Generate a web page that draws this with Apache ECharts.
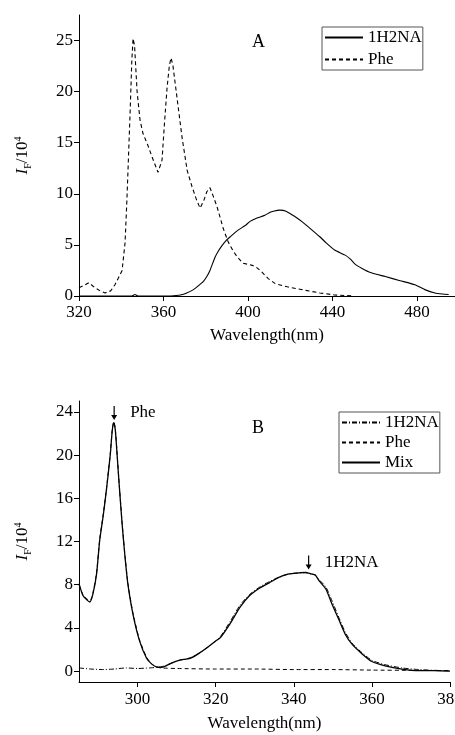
<!DOCTYPE html>
<html>
<head>
<meta charset="utf-8">
<script src="https://cdn.jsdelivr.net/npm/echarts@6/dist/echarts.min.js"></script>
<style>
html,body{margin:0;padding:0;background:#fff;}
#chart{width:455px;height:735px;}
</style>
</head>
<body>
<div id="chart"></div>
<script>
// ---------- Panel A data ----------
const aPheX = [320, 322, 324.7, 327, 330, 332.3, 335, 337, 339, 340.4, 341.8, 342.6, 343.2, 344.2, 345, 345.6, 346.3, 347.5, 348.9, 350.3, 352.5, 354.6, 357.4, 359.3, 360.5, 361.7, 362.8, 363.6, 364.5, 366.4, 368.8, 371.2, 373.5, 375.5, 377.3, 379, 380.5, 382, 383.5, 385.4, 388.3, 390.6, 393, 395, 397.7, 400, 402, 404, 405.8, 409.6, 413, 418.6, 426, 434, 441, 450];
const aPheY = [0.8, 1.0, 1.3, 0.9, 0.5, 0.3, 0.5, 1.1, 1.9, 2.5, 5.2, 9.0, 12.3, 18.0, 23.0, 25.2, 24.5, 20.0, 17.2, 15.9, 14.8, 13.6, 12.1, 13.3, 17.0, 20.4, 22.6, 23.3, 22.5, 19.4, 15.5, 12.3, 10.7, 9.5, 8.6, 9.3, 10.2, 10.6, 9.8, 8.7, 6.6, 5.3, 4.4, 3.8, 3.2, 3.1, 3.0, 2.8, 2.5, 1.7, 1.2, 0.9, 0.6, 0.3, 0.1, 0];
const aNaX = [320, 340, 345, 346.5, 348, 355, 362, 366, 368, 371, 374, 376.5, 378.8, 380.5, 382, 384.4, 386, 387.6, 389.5, 391.6, 395, 398.7, 401, 404, 408, 410.5, 412, 415, 418, 422, 426, 429.5, 434, 437, 441, 446, 448.5, 450.8, 454, 458, 465, 472, 479, 484, 488.5, 492, 495];
const aNaY = [0, 0, 0, 0.15, 0, 0, 0, 0.05, 0.1, 0.3, 0.6, 1.0, 1.4, 1.9, 2.5, 3.8, 4.4, 4.9, 5.4, 5.8, 6.4, 6.9, 7.3, 7.6, 7.9, 8.2, 8.3, 8.4, 8.3, 7.8, 7.2, 6.6, 5.8, 5.2, 4.5, 4.0, 3.6, 3.1, 2.7, 2.3, 1.9, 1.5, 1.1, 0.6, 0.3, 0.2, 0.15];
const aXTicks = [320, 360, 400, 440, 480];
const aYTicks = [0, 5, 10, 15, 20, 25];

// ---------- Panel B data ----------
const bMixX = [285, 286, 287, 287.8, 288.6, 289.5, 290.3, 291.2, 292, 293, 293.5, 293.9, 294.3, 294.8, 295.2, 296, 296.4, 296.8, 297.5, 298.8, 300.5, 302.3, 303.5, 304.8, 306, 307.3, 309, 310.6, 312, 313.6, 315.5, 317.5, 320, 321.2, 323.7, 326.2, 328.7, 331.3, 333.8, 336.3, 338.8, 341.4, 343, 344.4, 345.5, 346.4, 348.2, 349.8, 351.5, 353.2, 354.9, 357.5, 360, 363.4, 367.7, 372, 376, 380];
const bMixY = [8.1, 7.0, 6.6, 6.4, 7.2, 9.0, 12.1, 14.4, 16.7, 20.0, 22.2, 23.0, 22.3, 19.8, 17.7, 13.8, 12.1, 10.5, 8.1, 5.3, 2.8, 1.2, 0.7, 0.4, 0.35, 0.5, 0.8, 1.0, 1.1, 1.2, 1.6, 2.1, 2.8, 3.1, 4.4, 5.9, 7.0, 7.7, 8.2, 8.7, 9.0, 9.1, 9.15, 9.0, 8.9, 8.4, 7.6, 6.2, 4.8, 3.4, 2.5, 1.6, 0.9, 0.5, 0.2, 0.05, 0.05, 0];
const bNaX = [285, 288, 291, 294, 297, 300, 303, 304.8, 306, 307.3, 309, 310.6, 312, 313.6, 315.5, 317.5, 320, 321.2, 323.7, 326.2, 328.7, 331.3, 333.8, 336.3, 338.8, 341.4, 343, 344.4, 345.5, 346.4, 348.2, 349.8, 351.5, 353.2, 354.9, 357.5, 360, 363.4, 367.7, 372, 376, 380];
const bNaY = [0.3, 0.2, 0.15, 0.2, 0.3, 0.25, 0.3, 0.35, 0.4, 0.55, 0.8, 1.0, 1.1, 1.25, 1.6, 2.1, 2.8, 3.2, 4.6, 6.1, 7.1, 7.8, 8.3, 8.7, 9.0, 9.1, 9.1, 9.0, 8.9, 8.5, 7.8, 6.5, 5.0, 3.6, 2.6, 1.7, 1.0, 0.6, 0.3, 0.15, 0.08, 0.05];
const bPheX = [285, 286, 287, 287.8, 288.6, 289.5, 290.3, 291.2, 292, 293, 293.5, 293.9, 294.3, 294.8, 295.2, 296, 296.4, 296.8, 297.5, 298.8, 300.5, 302.3, 303.5, 304.8, 306, 310, 320, 330, 340, 350, 360, 370, 380];
const bPheY = [8.0, 7.1, 6.7, 6.5, 7.3, 9.1, 12.2, 14.5, 16.8, 20.1, 22.3, 23.1, 22.4, 19.9, 17.8, 13.9, 12.2, 10.6, 8.2, 5.4, 2.9, 1.3, 0.7, 0.4, 0.3, 0.25, 0.2, 0.2, 0.15, 0.15, 0.1, 0.08, 0.05];
const bXTicks = [300, 320, 340, 360, 380];
const bYTicks = [0, 4, 8, 12, 16, 20, 24];

const FONT = '"Liberation Serif", "DejaVu Serif", serif';
const zip = (xs, ys) => xs.map((x, i) => [x, ys[i]]);
const ARROW = 'path://M2.4,0 L3.6,0 L3.6,9 L6,9 L3,14 L0,9 L2.4,9 Z';

const axisCommon = {
  axisLine: { show: true, onZero: false, lineStyle: { color: '#000', width: 1 } },
  axisTick: { show: true, length: 5, lineStyle: { color: '#000', width: 1 } },
  splitLine: { show: false },
};
const yName = '{i|I}{s|F}{n|/10}{p|4}';
const yNameStyle = {
  color: '#000',
  rich: {
    i: { fontFamily: FONT, fontStyle: 'italic', fontSize: 17, color: '#000', lineHeight: 20 },
    s: { fontFamily: FONT, fontSize: 10, color: '#000', verticalAlign: 'bottom', lineHeight: 10 },
    n: { fontFamily: FONT, fontSize: 17, color: '#000', lineHeight: 20 },
    p: { fontFamily: FONT, fontSize: 10, color: '#000', verticalAlign: 'top', lineHeight: 10 }
  }
};
const labelStyle = { fontFamily: FONT, fontSize: 17, color: '#000' };
const legendCommon = {
  orient: 'vertical', itemWidth: 38, itemHeight: 14, itemTextGap: 3,
  borderColor: '#555', borderWidth: 1, borderRadius: 0,
  itemStyle: { color: 'rgba(0,0,0,0)', borderColor: 'rgba(0,0,0,0)', borderWidth: 0 },
  formatter: n => n.replace(/^[AB]:/, ''),
  textStyle: { fontFamily: FONT, fontSize: 17, color: '#000' },
  selectedMode: false
};

const chart = echarts.init(document.getElementById('chart'), null, { renderer: 'canvas' });
chart.setOption({
  animation: false,
  backgroundColor: '#fff',
  title: [
    { text: 'A', left: 252, top: 33, padding: 0, textStyle: { fontFamily: FONT, fontSize: 18, fontWeight: 'normal', color: '#000' } },
    { text: 'B', left: 252, top: 419, padding: 0, textStyle: { fontFamily: FONT, fontSize: 18, fontWeight: 'normal', color: '#000' } }
  ],
  legend: [
    Object.assign({}, legendCommon, {
      data: ['A:1H2NA', 'A:Phe'], left: 322, top: 27, padding: [2, 1, 2, 2], itemGap: 5
    }),
    Object.assign({}, legendCommon, {
      data: ['B:1H2NA', 'B:Phe', 'B:Mix'], left: 339, top: 412, padding: [2, 1, 2, 2], itemGap: 3
    })
  ],
  grid: [
    { left: 79, top: 15, width: 376, height: 281, containLabel: false, outerBoundsMode: 'none' },
    { left: 79, top: 401, width: 371, height: 281, containLabel: false, outerBoundsMode: 'none' }
  ],
  xAxis: [
    Object.assign({}, axisCommon, {
      gridIndex: 0, type: 'value', min: 320, max: 498,
      axisTick: Object.assign({}, axisCommon.axisTick, { customValues: aXTicks }),
      axisLabel: Object.assign({}, labelStyle, { margin: 8, customValues: aXTicks }),
      name: 'Wavelength(nm)', nameLocation: 'middle', nameGap: 31,
      nameTextStyle: { fontFamily: FONT, fontSize: 17, color: '#000' }
    }),
    Object.assign({}, axisCommon, {
      gridIndex: 1, type: 'value', min: 285, max: 380,
      axisTick: Object.assign({}, axisCommon.axisTick, { customValues: bXTicks }),
      axisLabel: Object.assign({}, labelStyle, { margin: 9, customValues: bXTicks }),
      name: 'Wavelength(nm)', nameLocation: 'middle', nameGap: 33,
      nameTextStyle: { fontFamily: FONT, fontSize: 17, color: '#000' }
    })
  ],
  yAxis: [
    Object.assign({}, axisCommon, {
      gridIndex: 0, type: 'value', min: 0, max: 27.5,
      axisTick: Object.assign({}, axisCommon.axisTick, { customValues: aYTicks }),
      axisLabel: Object.assign({}, labelStyle, { margin: 6, customValues: aYTicks }),
      name: yName, nameLocation: 'middle', nameRotate: 90, nameGap: 46,
      nameTextStyle: yNameStyle
    }),
    Object.assign({}, axisCommon, {
      gridIndex: 1, type: 'value', min: -1, max: 25,
      axisTick: Object.assign({}, axisCommon.axisTick, { customValues: bYTicks }),
      axisLabel: Object.assign({}, labelStyle, { margin: 6, customValues: bYTicks }),
      name: yName, nameLocation: 'middle', nameRotate: 90, nameGap: 46,
      nameTextStyle: yNameStyle
    })
  ],
  series: [
    {
      name: 'A:1H2NA', type: 'line', xAxisIndex: 0, yAxisIndex: 0, symbol: 'none',
      data: zip(aNaX, aNaY), smooth: 0.2,
      lineStyle: { color: '#000', width: 1.1, type: 'solid' }, itemStyle: { color: '#000' }
    },
    {
      name: 'A:Phe', type: 'line', xAxisIndex: 0, yAxisIndex: 0, symbol: 'none',
      data: zip(aPheX, aPheY),
      lineStyle: { color: '#000', width: 1.1, type: [4, 3] }, itemStyle: { color: '#000' }
    },
    {
      name: 'B:1H2NA', type: 'line', xAxisIndex: 1, yAxisIndex: 1, symbol: 'none',
      data: zip(bNaX, bNaY), smooth: 0.2,
      lineStyle: { color: '#000', width: 1, type: [5, 2, 1, 2] }, itemStyle: { color: '#000' }
    },
    {
      name: 'B:Phe', type: 'line', xAxisIndex: 1, yAxisIndex: 1, symbol: 'none',
      data: zip(bPheX, bPheY), smooth: 0.2,
      lineStyle: { color: '#000', width: 1, type: [4, 3] }, itemStyle: { color: '#000' }
    },
    {
      name: 'B:Mix', type: 'line', xAxisIndex: 1, yAxisIndex: 1, symbol: 'none',
      data: zip(bMixX, bMixY), smooth: 0.2,
      lineStyle: { color: '#000', width: 1.3, type: 'solid' }, itemStyle: { color: '#000' },
      markPoint: {
        symbol: ARROW, symbolSize: [6, 14], silent: true,
        itemStyle: { color: '#000' },
        label: { show: true, position: 'right', distance: 13, fontFamily: FONT, fontSize: 17, color: '#000' },
        data: [
          { coord: [294, 23.9], label: { formatter: 'Phe' } },
          { coord: [343.8, 10.05], label: { formatter: '1H2NA' } }
        ]
      }
    }
  ]
});
</script>
</body>
</html>
